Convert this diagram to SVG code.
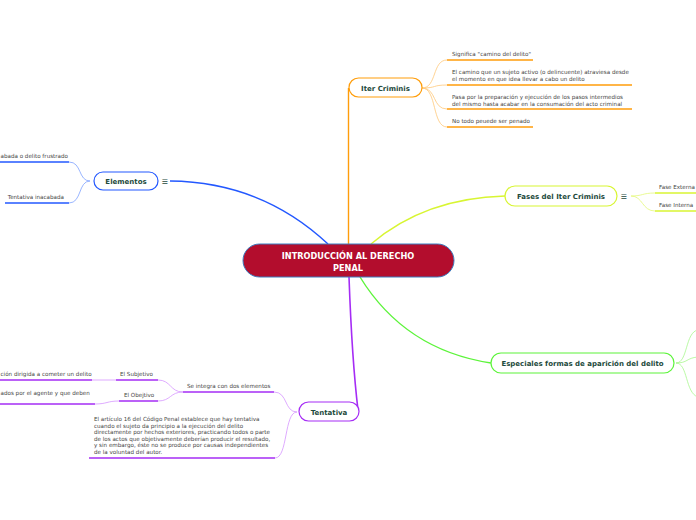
<svg xmlns="http://www.w3.org/2000/svg" width="696" height="520" viewBox="0 0 696 520">
<style>
.t{font-family:"DejaVu Sans",Verdana,sans-serif;font-size:5.6px;fill:#444}
.n{font-family:"DejaVu Sans",Verdana,sans-serif;font-size:7px;font-weight:bold;fill:#1d4a3c;text-anchor:middle}
.ic{font-family:"DejaVu Sans",sans-serif;font-size:7px;fill:#1d4a3c;text-anchor:middle}
.c{fill:none}
</style>
<rect width="696" height="520" fill="#fff"/>
<g id="connectors">
  <path class="c" d="M170,181 Q262,182 328,244" stroke="#2358ff" stroke-width="1.4"/>
  <path class="c" d="M348.5,244 V88" stroke="#ff9d0a" stroke-width="1.4"/>
  <path class="c" d="M371,244 Q425,198 505,196" stroke="#d8f532" stroke-width="1.4"/>
  <path class="c" d="M360,277 Q405,350 491,363" stroke="#5cf43a" stroke-width="1.4"/>
  <path class="c" d="M349,277 Q352,360 358,410" stroke="#a52cf5" stroke-width="1.6"/>
  <g stroke="#ffc878" stroke-width="0.8" class="c">
    <path d="M422,88 C437,88 432,60 447,60"/>
    <path d="M422,88 C437,88 432,85 447,85"/>
    <path d="M422,88 C437,88 432,109 447,109"/>
    <path d="M422,88 C437,88 432,127 447,127"/>
  </g>
  <g stroke="#ff9d0a" stroke-width="1.4" class="c">
    <path d="M447,60 H533"/><path d="M447,85 H632"/><path d="M447,109 H632"/><path d="M447,127 H533"/>
  </g>
  <g stroke="#7fa2ff" stroke-width="0.8" class="c">
    <path d="M90,181 C78,181 82,162 69,162"/>
    <path d="M90,181 C78,181 82,203 69,203"/>
  </g>
  <g stroke="#2358ff" stroke-width="1.4" class="c">
    <path d="M0,162 H69"/><path d="M5,203 H69"/>
  </g>
  <g stroke="#e4f97a" stroke-width="0.8" class="c">
    <path d="M631,196 C643,196 642,193 655,193"/>
    <path d="M631,196 C643,196 642,211 655,211"/>
  </g>
  <g stroke="#d8f532" stroke-width="1.4" class="c">
    <path d="M655,193 H696"/><path d="M655,211 H696"/>
  </g>
  <g stroke="#a8f88e" stroke-width="0.8" class="c">
    <path d="M676,363 C688,363 685,332 698,330"/>
    <path d="M676,363 C688,363 686,358 698,357"/>
    <path d="M676,363 C688,363 685,393 698,397"/>
  </g>
  <g stroke="#d595ff" stroke-width="0.8" class="c">
    <path d="M297,412 C284,412 288,392 274,392"/>
    <path d="M297,412 C284,412 288,458 275,458"/>
    <path d="M183,392 C170,392 171,380 158,380"/>
    <path d="M183,392 C170,392 171,401 158,401"/>
    <path d="M116,380 H92"/>
    <path d="M119,401 C107,401 107,404 95,404"/>
  </g>
  <g stroke="#a52cf5" stroke-width="1.4" class="c">
    <path d="M183,392 H274"/><path d="M89,458 H275"/>
    <path d="M116,380 H158"/><path d="M119,401 H158"/>
    <path d="M0,380 H92"/><path d="M0,404 H95"/>
  </g>
</g>
<g id="central">
  <rect x="243" y="244" width="211" height="33" rx="16.5" fill="#b30d2d" stroke="#3a7cc0" stroke-width="1"/>
  <text x="348" y="259" fill="#fff" font-family="DejaVu Sans,Verdana,sans-serif" font-size="8.2" font-weight="bold" text-anchor="middle">INTRODUCCIÓN AL DERECHO</text>
  <text x="348" y="270.5" fill="#fff" font-family="DejaVu Sans,Verdana,sans-serif" font-size="8.2" font-weight="bold" text-anchor="middle">PENAL</text>
</g>
<g id="iter">
  <rect x="349" y="78" width="73" height="19" rx="9.5" fill="#fff" stroke="#ff9d0a" stroke-width="1.2"/>
  <text class="n" x="385.5" y="90.5">Iter Criminis</text>
</g>
<g id="iter-1"><text class="t" x="452" y="56">Significa "camino del delito"</text></g>
<g id="iter-2"><text class="t" x="452" y="74">El camino que un sujeto activo (o delincuente) atraviesa desde</text><text class="t" x="452" y="81">el momento en que idea llevar a cabo un delito</text></g>
<g id="iter-3"><text class="t" x="452" y="99">Pasa por la preparación y ejecución de los pasos intermedios</text><text class="t" x="452" y="105.5">del mismo hasta acabar en la consumación del acto criminal</text></g>
<g id="iter-4"><text class="t" x="452" y="123">No todo peuede ser penado</text></g>
<g id="elementos">
  <rect x="94" y="172" width="64" height="18" rx="9" fill="#fff" stroke="#2358ff" stroke-width="1.2"/>
  <text class="n" x="126" y="183.5">Elementos</text>
  <text class="ic" x="165" y="184">☰</text>
</g>
<g id="elem-1"><text class="t" x="0.5" y="158">abada o delito frustrado</text></g>
<g id="elem-2"><text class="t" x="64" y="199" text-anchor="end">Tentativa inacabada</text></g>
<g id="fases">
  <rect x="505" y="186" width="112" height="20" rx="10" fill="#fff" stroke="#d8f532" stroke-width="1.2"/>
  <text class="n" x="561" y="198.5">Fases del Iter Criminis</text>
  <text class="ic" x="624" y="199">☰</text>
</g>
<g id="fase-ext"><text class="t" x="659" y="189">Fase Externa</text></g>
<g id="fase-int"><text class="t" x="659" y="207">Fase Interna</text></g>
<g id="especiales">
  <rect x="491" y="353" width="183" height="20" rx="10" fill="#fff" stroke="#5cf43a" stroke-width="1.2"/>
  <text class="n" x="582.5" y="365.5">Especiales formas de aparición del delito</text>
</g>
<g id="tentativa">
  <rect x="299" y="402" width="60" height="19" rx="9.5" fill="#fff" stroke="#a52cf5" stroke-width="1.2"/>
  <text class="n" x="329" y="414.5">Tentativa</text>
</g>
<g id="integra"><text class="t" x="187" y="388">Se integra con dos elementos</text></g>
<g id="articulo">
  <text class="t" x="94" y="421">El artículo 16 del Código Penal establece que hay tentativa</text>
  <text class="t" x="94" y="427.5">cuando el sujeto da principio a la ejecución del delito</text>
  <text class="t" x="94" y="434">directamente por hechos exteriores, practicando todos o parte</text>
  <text class="t" x="94" y="440.5">de los actos que objetivamente deberían producir el resultado,</text>
  <text class="t" x="94" y="447">y sin embargo, éste no se produce por causas independientes</text>
  <text class="t" x="94" y="453.5">de la voluntad del autor.</text>
</g>
<g id="subjetivo"><text class="t" x="120" y="376">El Subjetivo</text></g>
<g id="objetivo"><text class="t" x="124" y="396.5">El Obejtivo</text></g>
<g id="subj-1"><text class="t" x="0.5" y="376">ción dirigida a cometer un delito</text></g>
<g id="obj-1"><text class="t" x="0.5" y="394.5">ados por el agente y que deben</text></g>
</svg>
